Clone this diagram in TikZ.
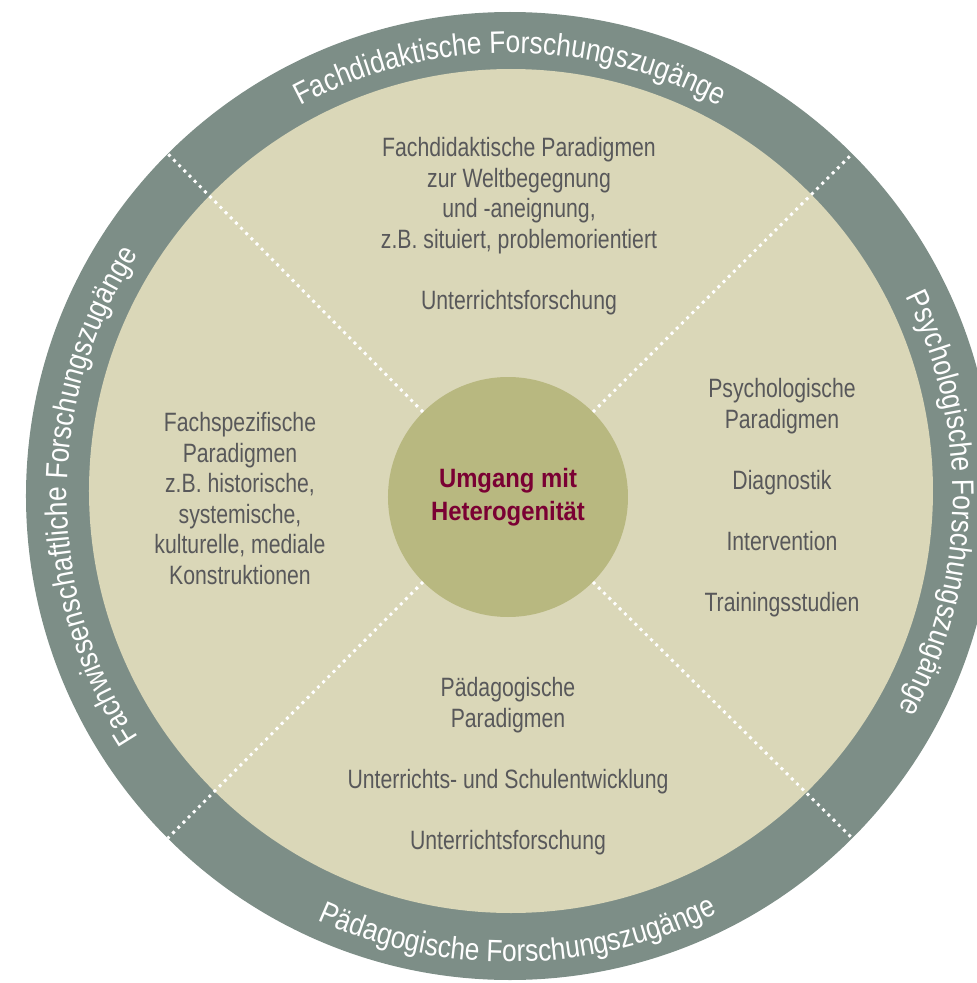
\documentclass[tikz,border=0pt]{standalone}
\usepackage{fontspec}
\setmainfont{Liberation Sans}[FakeStretch=0.8]
\newfontfamily\ringfont{Liberation Sans}[FakeStretch=0.85]
\newfontfamily\hubfont{Liberation Sans}[FakeStretch=0.9]
\usetikzlibrary{decorations.text}
\definecolor{ring}{HTML}{7D8E87}
\definecolor{field}{HTML}{DAD7B8}
\definecolor{hubfill}{HTML}{B8B880}
\definecolor{body}{HTML}{58585A}
\definecolor{wine}{HTML}{7A0033}
\newcommand{\gap}{\\[22.9pt]}
\newcommand{\ringsize}{\ringfont\fontsize{23.25}{28}\selectfont}

\begin{document}
\begin{tikzpicture}[x=0.75pt, y=0.75pt,
    block/.style={align=center, text=body, font=\fontsize{19.9}{22.9}\selectfont},
    hub/.style={circle, fill=hubfill, minimum size=180pt, inner sep=0pt, align=center, text=wine, font=\hubfont\bfseries\fontsize{19.9}{25.1}\selectfont},
    sep/.style={draw=white, line width=2.2pt, dash pattern=on 2.2pt off 3.3pt},
    ringtext/.style={decorate, decoration={text along path, text align=center, text color=white, text={|\ringsize|#1}}}
  ]
    \useasboundingbox (-510,-487) rectangle (467,496);
    \fill[ring] (0,0) circle (484);
    \fill[field] (1,5) circle (422);
    \path[ringtext={Fachdidaktische Forschungszugänge}] (150:443) arc[start angle=150, end angle=30, radius=443];
    \path[ringtext={Psychologische Forschungszugänge}] (44:443) arc[start angle=44, end angle=-46, radius=443];
    \path[ringtext={Fachwissenschaftliche Forschungszugänge}] (225:443) arc[start angle=225, end angle=135, radius=443];
    \path[ringtext={Pädagogische Forschungszugänge}] (226:466) arc[start angle=226, end angle=316, radius=466];
    \node[hub] (hub) at (-2,-1) {Umgang mit\\Heterogenität};
    \foreach \a in {45,135,225,315} {
      \coordinate (rim\a) at (\a:484);
      \draw[sep] (hub.\a) -- (rim\a);
    }
    \node[block] (didaktik) at (9,270) {Fachdidaktische Paradigmen\\zur Weltbegegnung\\und -aneignung,\\z.B. situiert, problemorientiert\gap Unterrichtsforschung};
    \node[block] (psych) at (272,-1.5) {Psychologische\\Paradigmen\gap Diagnostik\gap Intervention\gap Trainingsstudien};
    \node[block] (fach) at (-270,-2.5) {Fachspezifische\\Paradigmen\\z.B. historische,\\systemische,\\kulturelle, mediale\\Konstruktionen};
    \node[block] (paed) at (-2,-270) {Pädagogische\\Paradigmen\gap Unterrichts- und Schulentwicklung\gap Unterrichtsforschung};
  \end{tikzpicture}
\end{document}
